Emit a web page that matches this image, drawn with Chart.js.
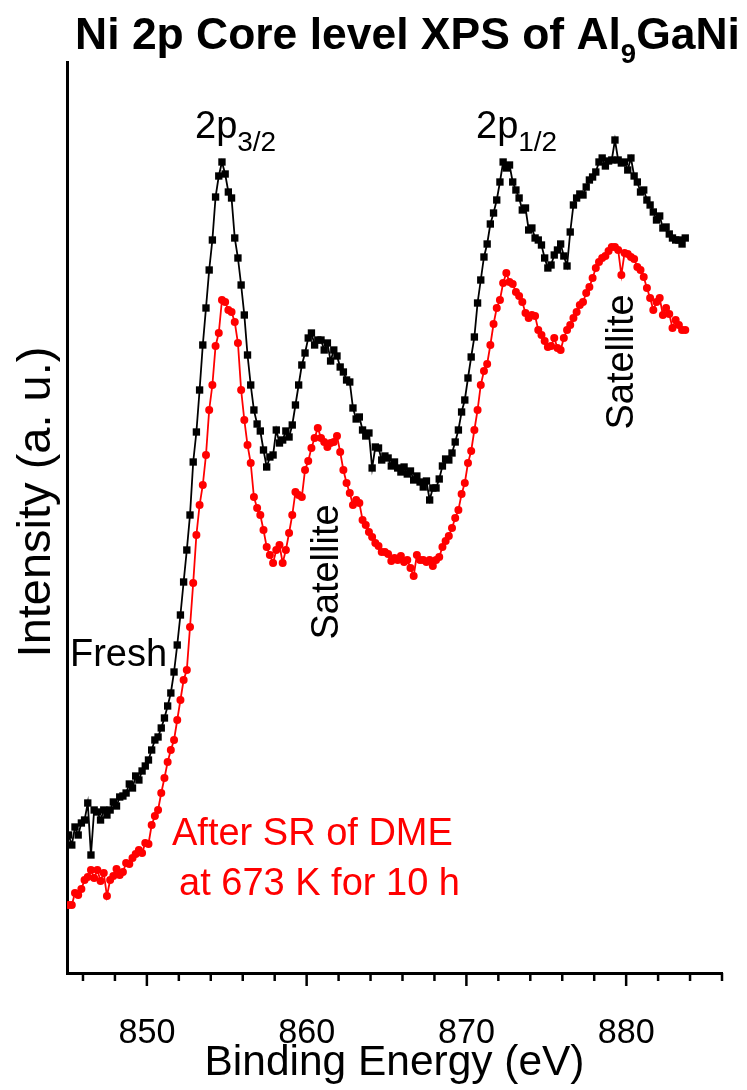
<!DOCTYPE html>
<html><head><meta charset="utf-8">
<script src="https://cdn.jsdelivr.net/npm/chart.js@4.4.1/dist/chart.umd.min.js"></script>
<style>html,body{margin:0;padding:0;background:#fff;}canvas{display:block;}</style>
</head><body>
<canvas id="c" width="747" height="1090"></canvas>
<script>
// Binding energy grid (eV)
const bindingEnergy = [
845.1,845.3,845.5,845.7,845.9,846.1,846.3,846.5,846.7,846.9,
847.1,847.3,847.5,847.7,847.9,848.1,848.3,848.5,848.7,848.9,
849.1,849.3,849.5,849.7,849.9,850.1,850.3,850.5,850.7,850.9,
851.1,851.3,851.5,851.7,851.9,852.1,852.3,852.5,852.7,852.9,
853.1,853.3,853.5,853.7,853.9,854.1,854.3,854.5,854.7,854.9,
855.1,855.3,855.5,855.7,855.9,856.1,856.3,856.5,856.7,856.9,
857.1,857.3,857.5,857.7,857.9,858.1,858.3,858.5,858.7,858.9,
859.1,859.3,859.5,859.7,859.9,860.1,860.3,860.5,860.7,860.9,
861.1,861.3,861.5,861.7,861.9,862.1,862.3,862.5,862.7,862.9,
863.1,863.3,863.5,863.7,863.9,864.1,864.3,864.5,864.7,864.9,
865.1,865.3,865.5,865.7,865.9,866.1,866.3,866.5,866.7,866.9,
867.1,867.3,867.5,867.7,867.9,868.1,868.3,868.5,868.7,868.9,
869.1,869.3,869.5,869.7,869.9,870.1,870.3,870.5,870.7,870.9,
871.1,871.3,871.5,871.7,871.9,872.1,872.3,872.5,872.7,872.9,
873.1,873.3,873.5,873.7,873.9,874.1,874.3,874.5,874.7,874.9,
875.1,875.3,875.5,875.7,875.9,876.1,876.3,876.5,876.7,876.9,
877.1,877.3,877.5,877.7,877.9,878.1,878.3,878.5,878.7,878.9,
879.1,879.3,879.5,879.7,879.9,880.1,880.3,880.5,880.7,880.9,
881.1,881.3,881.5,881.7,881.9,882.1,882.3,882.5,882.7,882.9,
883.1,883.3,883.5,883.7
];
// Fresh sample intensity (a.u.)
const freshIntensity = [
138,128,146,138,150,153,170,118,163,161,
153,163,158,163,171,167,176,177,180,189,
185,197,193,202,207,213,223,233,236,245,
255,267,280,301,328,358,391,423,458,511,
541,583,628,665,703,733,776,797,811,799,
781,775,735,715,688,658,618,588,563,549,
542,523,506,516,518,543,530,533,542,536,
548,568,588,608,620,635,640,628,633,633,
623,630,612,623,617,606,601,593,591,565,
554,556,543,537,540,505,526,525,513,517,
515,507,511,505,501,506,499,502,493,497,
491,486,492,473,485,485,494,507,514,513,
520,531,543,561,573,595,616,636,670,693,
716,729,749,760,773,791,811,805,808,791,
783,775,763,765,743,745,735,733,728,715,
705,708,718,723,729,717,707,741,768,775,
779,778,786,793,796,801,811,815,807,812,
813,833,813,810,811,803,815,797,791,781,
783,773,768,761,753,757,745,746,739,735,
733,733,729,735
];
// After SR of DME at 673 K for 10 h (a.u.)
const afterIntensity = [
68,68,80,78,84,93,96,103,95,103,
92,100,77,93,97,104,98,101,110,109,
115,119,123,120,130,129,148,157,163,180,
195,211,223,233,253,273,293,303,346,390,
438,468,488,518,563,588,627,640,673,671,
663,661,651,630,583,553,528,510,476,465,
458,443,426,418,410,423,428,410,423,440,
458,481,478,476,503,512,525,535,545,535,
531,526,530,531,537,521,503,490,480,468,
473,470,453,448,441,436,430,427,421,421,
419,412,415,413,417,411,413,405,397,418,
413,413,411,413,407,413,416,426,432,437,
445,455,463,479,490,510,522,543,563,588,
602,609,628,649,665,673,690,700,691,689,
681,677,671,660,655,658,657,643,638,632,
626,627,635,625,623,635,643,648,655,661,
668,671,680,686,695,705,711,715,717,722,
726,726,723,698,720,719,716,714,706,703,
696,685,675,663,671,675,658,665,659,645,
653,648,643,643
];
const tickValues = [846,848,850,852,854,856,858,860,862,864,866,868,870,872,874,876,878,880,882,884,886];
const majorTicks = [850,860,870,880];

const FONT = '"Liberation Sans", Arial, Helvetica, sans-serif';
const mctx = document.createElement('canvas').getContext('2d');
function widthAt(text, weight){ mctx.font = (weight ? weight + ' ' : '') + '100px ' + FONT; return mctx.measureText(text).width / 100; }

const tickSize = 57 / widthAt('850');
const tickPad = 59 - 0.547 * tickSize;
const xTitleSize = 380 / widthAt('Binding Energy (eV)');
const xTitlePad = 27 - xTitleSize / 2;

function toPoints(xs, ys){ return xs.map((x,i)=>({x:x,y:ys[i]})); }

function drawRuns(ctx, runs, startX, align){
  let total = 0;
  runs.forEach(r=>{ ctx.font = r.font; r.w = ctx.measureText(r.text).width; total += r.w; });
  let x = align === 'center' ? startX - total/2 : startX;
  runs.forEach(r=>{ ctx.font = r.font; ctx.fillText(r.text, x, r.y); x += r.w; });
}
function vText(ctx, text, x, y, font, color){
  ctx.save();
  ctx.translate(x, y);
  ctx.rotate(-Math.PI/2);
  ctx.font = font; ctx.fillStyle = color;
  ctx.textAlign = 'center'; ctx.textBaseline = 'alphabetic';
  ctx.fillText(text, 0, 0);
  ctx.restore();
}

const overlay = {
  id: 'overlay',
  afterDraw(chart){
    const ctx = chart.ctx, xs = chart.scales.x, area = chart.chartArea;
    ctx.save();
    ctx.strokeStyle = '#000'; ctx.lineWidth = 2.5;
    tickValues.forEach(v=>{
      const px = xs.getPixelForValue(v);
      const len = majorTicks.includes(v) ? 13 : 8;
      ctx.beginPath(); ctx.moveTo(px, area.bottom); ctx.lineTo(px, area.bottom + len); ctx.stroke();
    });
    ctx.textAlign = 'left'; ctx.textBaseline = 'alphabetic';
    ctx.fillStyle = '#000';
    const tw = widthAt('Ni 2p Core level XPS of Al', 'bold') + widthAt('GaNi', 'bold') + 0.62 * widthAt('9', 'bold');
    const ts = 665 / tw;
    const tb = 17 + 0.716 * ts;
    drawRuns(ctx, [
      {text:'Ni 2p Core level XPS of Al', font:'bold ' + ts + 'px ' + FONT, y:tb},
      {text:'9', font:'bold ' + (0.62 * ts) + 'px ' + FONT, y:tb + 0.32 * ts},
      {text:'GaNi', font:'bold ' + ts + 'px ' + FONT, y:tb}
    ], 407.5, 'center');
    drawRuns(ctx, [
      {text:'2p', font:'38px '+FONT, y:138},
      {text:'3/2', font:'28px '+FONT, y:151}
    ], 195, 'left');
    drawRuns(ctx, [
      {text:'2p', font:'38px '+FONT, y:138},
      {text:'1/2', font:'28px '+FONT, y:151}
    ], 476, 'left');
    ctx.font = '38px '+FONT;
    ctx.fillText('Fresh', 70, 666);
    ctx.fillStyle = '#ff0000';
    ctx.fillText('After SR of DME', 172, 845);
    ctx.fillText('at 673 K for 10 h', 179, 895);
    vText(ctx, 'Satellite', 338, 572, '38px '+FONT, '#000');
    vText(ctx, 'Satellite', 633, 362, '38px '+FONT, '#000');
    vText(ctx, 'Intensity (a. u.)', 50, 502, '47px '+FONT, '#000');
    ctx.restore();
  }
};

new Chart(document.getElementById('c'), {
  type: 'scatter',
  data: {
    datasets: [
      {
        label: 'Fresh',
        data: toPoints(bindingEnergy, freshIntensity),
        showLine: true, borderColor: '#000', borderWidth: 1.8,
        pointStyle: 'rect', pointRadius: 5.2, pointBorderWidth: 0,
        pointBackgroundColor: '#000', order: 1
      },
      {
        label: 'After SR of DME at 673 K for 10 h',
        data: toPoints(bindingEnergy, afterIntensity),
        showLine: true, borderColor: '#ff0000', borderWidth: 1.8,
        pointStyle: 'circle', pointRadius: 4, pointBorderWidth: 0,
        pointBackgroundColor: '#ff0000', order: 0
      }
    ]
  },
  options: {
    responsive: false, animation: false, devicePixelRatio: 1,
    layout: { padding: { top: 62, right: 25, left: 0, bottom: 0 } },
    plugins: { legend: { display: false }, tooltip: { enabled: false } },
    scales: {
      x: {
        type: 'linear', min: 845, max: 886,
        afterBuildTicks: s => { s.ticks = tickValues.map(v => ({ value: v })); },
        afterFit: s => { s.height = 117; s.paddingLeft = 0; s.paddingRight = 0; },
        grid: { display: false, drawTicks: false },
        border: { display: true, color: '#000', width: 3 },
        ticks: {
          autoSkip: false, maxRotation: 0, padding: tickPad, color: '#000',
          font: { family: FONT, size: tickSize },
          callback: v => majorTicks.includes(v) ? String(v) : ''
        },
        title: {
          display: true, text: 'Binding Energy (eV)', color: '#000',
          font: { family: FONT, size: xTitleSize, lineHeight: 1 }, padding: { top: 0, bottom: xTitlePad }
        }
      },
      y: {
        min: 0, max: 911,
        afterFit: s => { s.width = 67; },
        grid: { display: false, drawTicks: false },
        border: { display: true, color: '#000', width: 3 },
        ticks: { display: false },
        title: { display: false }
      }
    }
  },
  plugins: [overlay]
});
</script>
</body></html>
